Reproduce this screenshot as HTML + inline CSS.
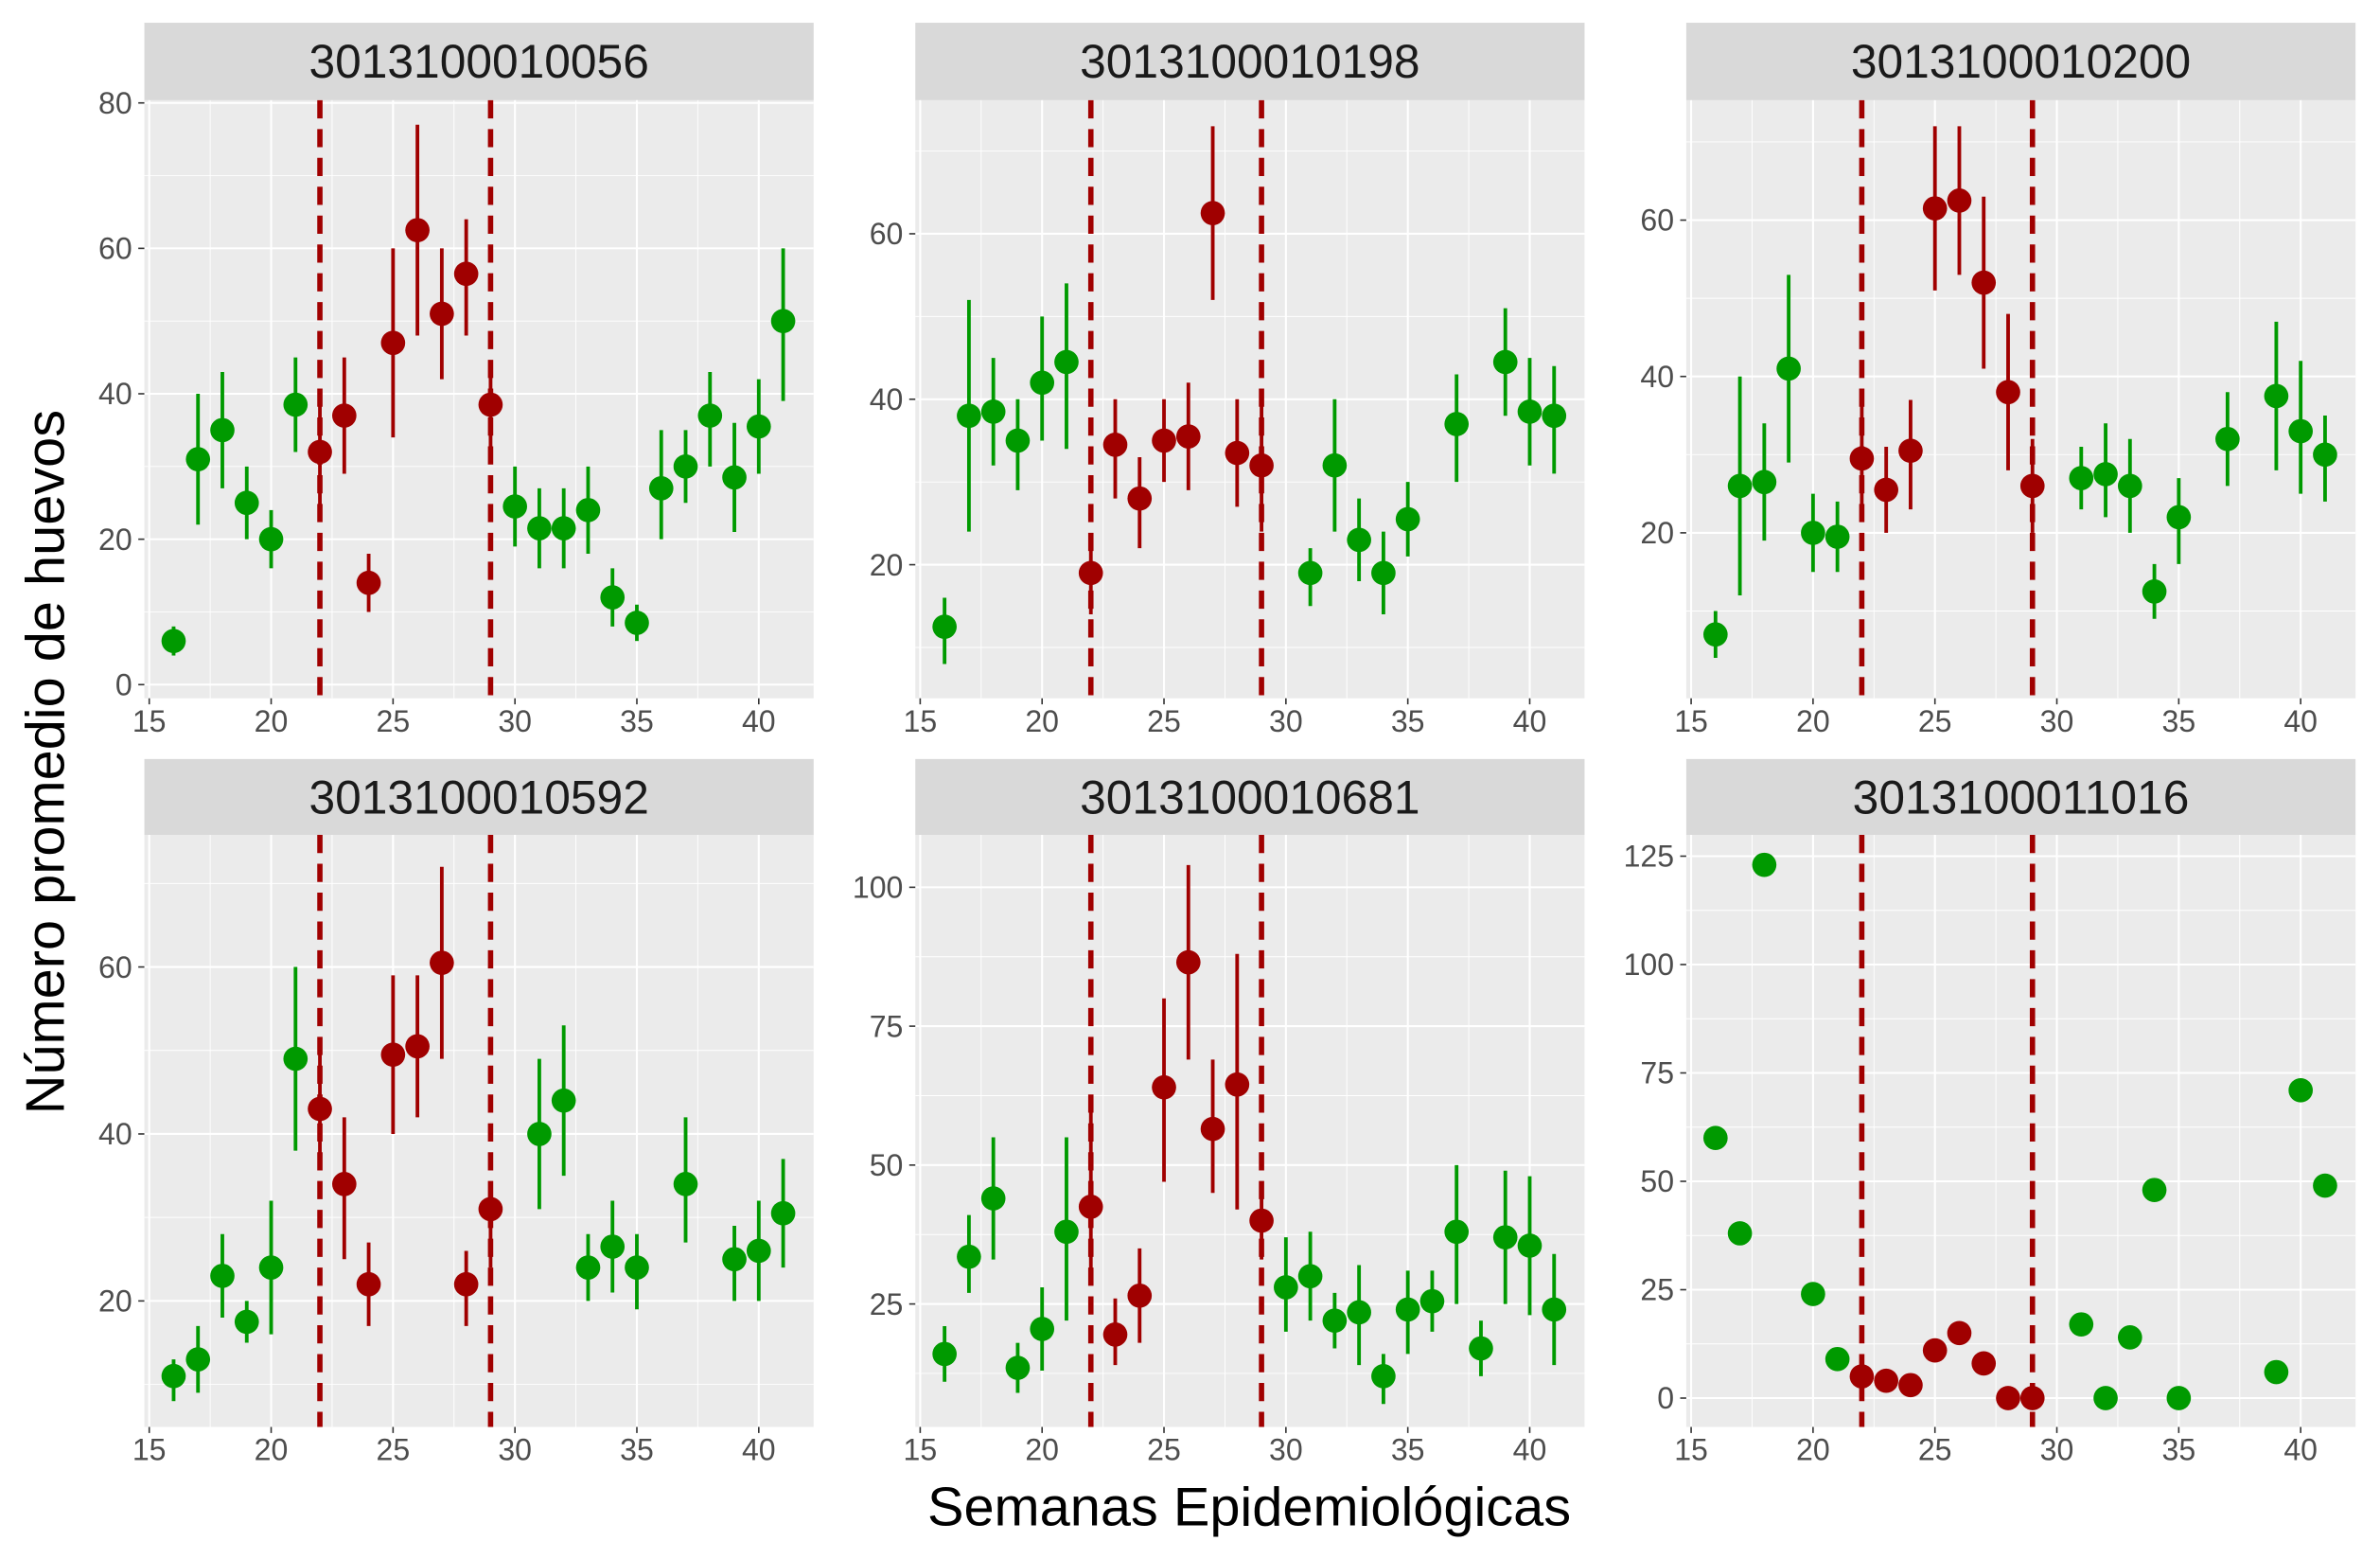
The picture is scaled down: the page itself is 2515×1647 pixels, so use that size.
<!DOCTYPE html>
<html><head><meta charset="utf-8"><style>
html,body{margin:0;padding:0;background:#fff}
svg{display:block;font-family:"Liberation Sans",Arial,sans-serif}
</style></head><body>
<svg id="chart" width="2515" height="1647" viewBox="0 0 1568 1027" xmlns="http://www.w3.org/2000/svg">
<rect width="1568" height="1027" fill="#fff"/>
<text x="0" y="0" transform="translate(42,502) rotate(-90)" text-anchor="middle" font-size="36" fill="#000">Número promedio de huevos</text>
<text x="823" y="1005" text-anchor="middle" font-size="36" fill="#000">Semanas Epidemiológicas</text>
</svg>
<script>
const panelTitles = ["3013100010056","3013100010198","3013100010200","3013100010592","3013100010681","3013100011016"];
const xTicks = [15,20,25,30,35,40];
const yTicks = [[0,20,40,60,80],[20,40,60],[20,40,60],[20,40,60],[25,50,75,100],[0,25,50,75,100,125]];
const weeks = [
[16,17,18,19,20,21,22,23,24,25,26,27,28,29,30,31,32,33,34,35,36,37,38,39,40,41],
[16,17,18,19,20,21,22,23,24,25,26,27,28,29,31,32,33,34,35,37,39,40,41],
[16,17,18,19,20,21,22,23,24,25,26,27,28,29,31,32,33,34,35,37,39,40,41],
[16,17,18,19,20,21,22,23,24,25,26,27,28,29,31,32,33,34,35,37,39,40,41],
[16,17,18,19,20,21,22,23,24,25,26,27,28,29,30,31,32,33,34,35,36,37,38,39,40,41],
[16,17,18,20,21,22,23,24,25,26,27,28,29,31,32,33,34,35,39,40,41]];
const means = [
[6,31,35,25,20,38.5,32,37,14,47,62.5,51,56.5,38.5,24.5,21.5,21.5,24,12,8.5,27,30,37,28.5,35.5,50],
[12.5,38,38.5,35,42,44.5,19,34.5,28,35,35.5,62.5,33.5,32,19,32,23,19,25.5,37,44.5,38.5,38],
[7,26,26.5,41,20,19.5,29.5,25.5,30.5,61.5,62.5,52,38,26,27,27.5,26,12.5,22,32,37.5,33,30],
[11,13,23,17.5,24,49,43,34,22,49.5,50.5,60.5,22,31,40,44,24,26.5,24,34,25,26,30.5],
[16,33.5,44,13.5,20.5,38,42.5,19.5,26.5,64,86.5,56.5,64.5,40,28,30,22,23.5,12,24,25.5,38,17,37,35.5,24],
[60,38,123,24,9,5,4,3,11,15,8,0,0,17,0,14,48,0,6,71,49]];
const lows = [
[4,22,27,20,16,32,24,29,10,34,48,42,48,32,19,16,16,18,8,6,20,25,30,21,29,39],
[8,24,32,29,35,34,14,28,22,30,29,52,27,24,15,24,18,14,21,30,38,32,31],
[4,12,19,29,15,15,22,20,23,51,53,41,28,20,23,22,20,9,16,26,28,25,24],
[8,9,18,15,16,38,36,25,17,40,42,49,17,24,31,35,20,21,19,27,20,20,24],
[11,27,33,9,13,22,30,14,18,47,69,45,42,33,20,22,17,14,7,16,20,25,12,25,23,14],
null];
const highs = [
[8,40,43,30,24,45,40,45,18,60,77,60,64,44,30,27,27,30,16,11,35,35,43,36,42,60],
[16,52,45,40,50,54,23,40,33,40,42,73,40,40,22,40,28,24,30,43,51,45,44],
[10,40,34,53,25,24,38,31,37,72,72,63,48,32,31,34,32,16,27,38,47,42,35],
[13,17,28,20,32,60,50,42,27,59,59,72,26,34,49,53,28,32,28,42,29,32,37],
[21,41,55,18,28,55,60,26,35,80,104,69,88,47,37,38,27,32,16,31,31,50,22,49,48,34],
null];
const zeroPx=[451,481,454,967,950.5,921], pxPerUnit=[4.79,5.45,5.15,5.5,3.66,2.856];
const panelX=[95,603,1111], rowStrip=[15,500], rowPlot=[[66,460],[550,940]];
const PW=441, XMIN=14.8, XMAX=42.25;
const svg=document.getElementById('chart');
const NS='http://www.w3.org/2000/svg';
function mk(tag,attrs,parent){const e=document.createElementNS(NS,tag);for(const k in attrs)e.setAttribute(k,attrs[k]);(parent||svg).appendChild(e);return e;}
for(let p=0;p<6;p++){
  const col=p%3,row=Math.floor(p/3);
  const x0=panelX[col],y0=rowPlot[row][0],y1=rowPlot[row][1];
  const xs=v=>x0+(v-XMIN)/(XMAX-XMIN)*PW;
  const ys=v=>zeroPx[p]-v*pxPerUnit[p];
  const g=mk('g',{});
  
  
  const bg=mk('rect',{x:x0,y:y0,width:PW,height:y1-y0,fill:'#ebebeb'},g);
  
  
  const st=mk('rect',{x:x0,y:rowStrip[row],width:PW,height:y0-rowStrip[row],fill:'#d9d9d9'},g);
  
  
  const tt=mk('text',{x:x0+PW/2,y:rowStrip[row]+36,'text-anchor':'middle','font-size':31,fill:'#1a1a1a'},g);
  tt.textContent=panelTitles[p];
  
  
  for(let i=0;i<xTicks.length;i++){const v=xTicks[i]+2.5;if(xs(v)<x0+PW)mk('line',{x1:xs(v),x2:xs(v),y1:y0,y2:y1,stroke:'#fff','stroke-width':0.6},g);}
  const yt=yTicks[p],step=yt[1]-yt[0];
  for(let v=yt[0]-step*1.5;v<=yt[yt.length-1]+step*1.5;v+=step){const y=ys(v);if(y>y0&&y<y1)mk('line',{x1:x0,x2:x0+PW,y1:y,y2:y,stroke:'#fff','stroke-width':0.6},g);}
  for(const v of xTicks){const x=xs(v);
    mk('line',{x1:x,x2:x,y1:y0,y2:y1,stroke:'#fff','stroke-width':1.3},g);
    mk('line',{x1:x,x2:x,y1:y1,y2:y1+4,stroke:'#333','stroke-width':1},g);
    const t=mk('text',{x:x,y:y1+22,'text-anchor':'middle','font-size':20,fill:'#4d4d4d'},g);t.textContent=v;
    
    }
  for(const v of yt){const y=ys(v);
    mk('line',{x1:x0,x2:x0+PW,y1:y,y2:y,stroke:'#fff','stroke-width':1.3},g);
    mk('line',{x1:x0-4,x2:x0,y1:y,y2:y,stroke:'#333','stroke-width':1},g);
    const t=mk('text',{x:x0-8,y:y+7,'text-anchor':'end','font-size':20,fill:'#4d4d4d'},g);t.textContent=v;
    
    }
  for(const w of [22,29]){const l=mk('line',{x1:xs(w),x2:xs(w),y1:y0,y2:y1,stroke:'#a00000','stroke-width':3.5,'stroke-dasharray':'12,7'},g);
    
    }
  for(let i=0;i<weeks[p].length;i++){
    const w=weeks[p][i],c=(w>=22&&w<=29)?'#a00000':'#009a00';
    if(lows[p]){const b=mk('line',{x1:xs(w),x2:xs(w),y1:ys(lows[p][i]),y2:ys(highs[p][i]),stroke:c,'stroke-width':2.4},g);
      
      }
    const pt=mk('circle',{cx:xs(w),cy:ys(means[p][i]),r:8,fill:c},g);
    
    
  }
}
</script>
</body></html>
